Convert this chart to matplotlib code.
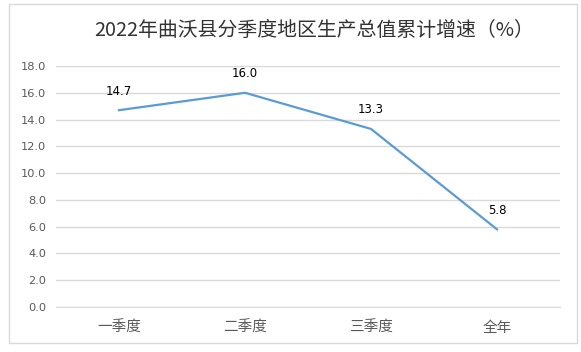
import numpy as np
import matplotlib as mpl
import matplotlib.pyplot as plt
from matplotlib.patches import Rectangle
mpl.use('agg')

plt.rcParams['font.family'] = ['Noto Sans CJK SC', 'DejaVu Sans']

categories = ['一季度', '二季度', '三季度', '全年']
values = [14.7, 16.0, 13.3, 5.8]
yticks = [0, 2, 4, 6, 8, 10, 12, 14, 16, 18]

fig = plt.figure(figsize=(5.81, 3.52), dpi=100)

# outer chart border
fig.patches.append(Rectangle((9 / 581, 1 - 343 / 352), 568 / 581, 339 / 352,
                             transform=fig.transFigure, fill=False,
                             edgecolor='#D9D9D9', linewidth=1.0))

ax = fig.add_axes([56 / 581, 45 / 352, 504 / 581, 241 / 352])
x = np.arange(len(categories))
ax.plot(x, values, color='#5B9BD5', linewidth=1.6)
for xi, v in zip(x, values):
    ax.annotate(f'{v:.1f}', (xi, v), xytext=(0, 9), textcoords='offset points',
                ha='center', va='bottom', fontsize=8.5, color='#000000',
                family=['DejaVu Sans'])

ax.set_xlim(-0.5, len(categories) - 0.5)
ax.set_ylim(0, 18)
ax.set_yticks(yticks)
ax.set_yticklabels([f'{t:.1f}' for t in yticks], family=['DejaVu Sans'])
ax.set_xticks(x)
ax.set_xticklabels(categories, fontsize=10.5)
ax.tick_params(axis='both', length=0, colors='#595959')
ax.tick_params(axis='y', pad=7, labelsize=8.2)
ax.tick_params(axis='x', pad=10)
ax.grid(axis='y', color='#D9D9D9', linewidth=1.0)
ax.set_axisbelow(True)
for s in ['top', 'right', 'left']:
    ax.spines[s].set_visible(False)
ax.spines['bottom'].set_color('#D9D9D9')

fig.text(314 / 581, 1 - 30 / 352, '2022年曲沃县分季度地区生产总值累计增速（%）',
         ha='center', va='center', fontsize=14.3, color='#333333')

fig.savefig('out.png', dpi=100)
